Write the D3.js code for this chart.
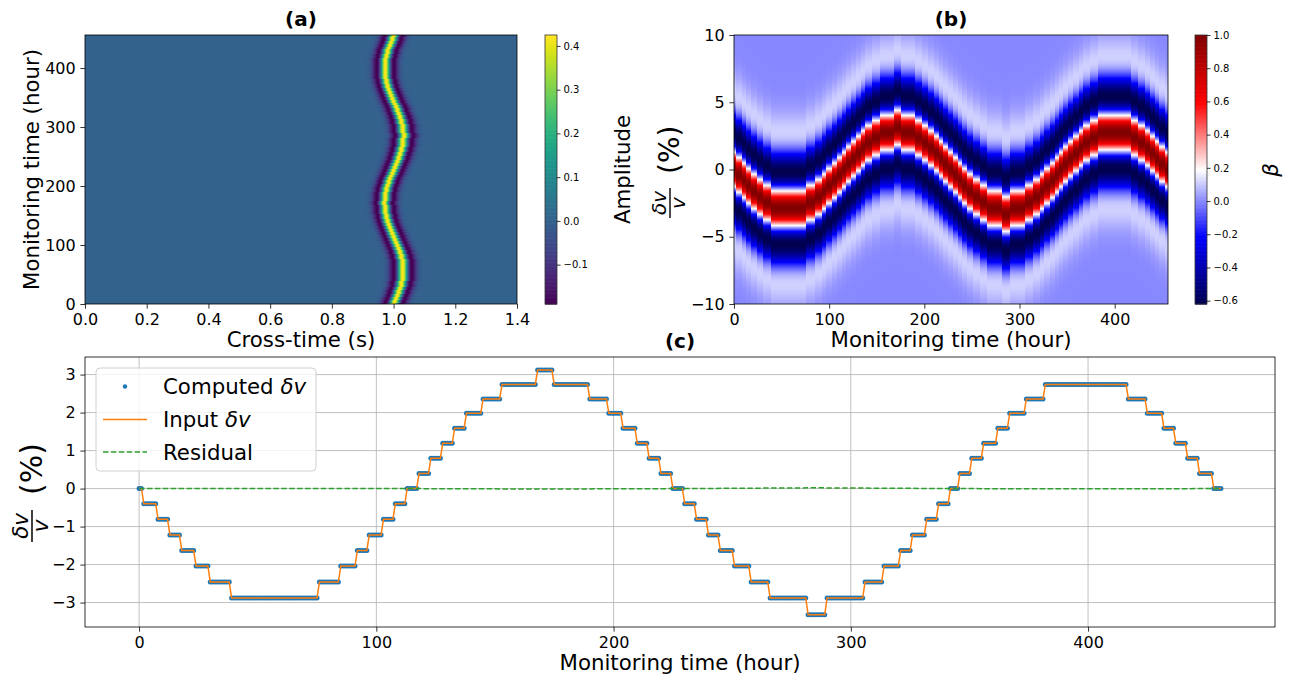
<!DOCTYPE html>
<html><head><meta charset="utf-8">
<script src="https://cdn.jsdelivr.net/npm/d3@7"></script>
<style>
body{margin:0;background:#fff}
svg{display:block}
text{font-family:"DejaVu Sans",sans-serif;fill:#000}
</style>
</head><body>
<svg id="fig" width="1290" height="677"></svg>
<script>
// ---------------- DATA ----------------
// Input / computed dv/v (%) is piecewise constant: level i holds from stepStartHours[i]
const stepStartHours = [0,2,8,13,18,24,30,39,76,85,92,97,103,108,113,118,123,128,133,138,145,153,168,175,190,198,204,210,215,220,225,230,235,240,245,251,258,266,282,290,306,314,321,326,332,337,342,346,351,356,362,367,374,382,417,425,432,437,442,447,453];
const stepLevels     = [0,-0.40,-0.81,-1.22,-1.63,-2.04,-2.46,-2.88,-2.46,-2.04,-1.63,-1.22,-0.81,-0.40,0,0.40,0.80,1.19,1.59,1.98,2.36,2.74,3.12,2.74,2.36,1.98,1.59,1.19,0.80,0.40,0,-0.40,-0.81,-1.22,-1.63,-2.04,-2.46,-2.88,-3.32,-2.88,-2.46,-2.04,-1.63,-1.22,-0.81,-0.40,0,0.40,0.80,1.19,1.59,1.98,2.36,2.74,2.36,1.98,1.59,1.19,0.80,0.40,0];
const lastHour = 456;
const residualHours  = [0,60,114,170,228,285,342,400,456];
const residualValues = [0,0.003,0,-0.012,0,0.02,0,-0.006,0];

// synthetic trace parameters (panel a) and beta parameters (panel b)
const waveletFreq = 13.6;     // Hz
const waveletArrival = 1.0;   // s
const waveletPeak = 0.425;
const ampRange = [-0.19, 0.425];
const betaRange = [-0.62, 1.0];
const betaScale = 0.50;       // correlation lag units per % of dv mismatch
const trialDvRange = [-10, 10];

// ticks
const crossTimeTicks = [0,0.2,0.4,0.6,0.8,1.0,1.2,1.4];
const hourTicks = [0,100,200,300,400];
const dvTicksB = [-10,-5,0,5,10];
const dvTicksC = [-3,-2,-1,0,1,2,3];
const ampTicks = [-0.1,0,0.1,0.2,0.3,0.4];
const betaTicks = [-0.6,-0.4,-0.2,0,0.2,0.4,0.6,0.8,1.0];

// ---------------- helpers ----------------
const hours = d3.range(0, lastHour + 1);
const inputDv = hours.map(h => stepLevels[d3.bisectRight(stepStartHours, h) - 1]);
const computedDv = inputDv.slice();

const svg = d3.select("#fig");
const TICK = 4.67, PAD = 4.67, TF = 16, LF = 21.3;

function styleAxis(g, fs) {
  g.attr("font-family", '"DejaVu Sans",sans-serif').attr("font-size", fs);
  g.select(".domain").remove();
  g.selectAll(".tick line").attr("stroke", "#000").attr("stroke-width", 0.8);
  g.selectAll(".tick text").attr("fill", "#000");
}
function ricker(u) {
  const a = Math.PI * Math.PI * waveletFreq * waveletFreq * u * u;
  return (1 - 2 * a) * Math.exp(-a);
}
function rickerAutocorr(dvDiff) {
  const x = betaScale * dvDiff;
  const u = x * x;
  return (u * u - 6 * u + 3) / 3 * Math.exp(-u / 2);
}
const seismic = d3.scaleLinear()
  .domain([0, 0.25, 0.5, 0.75, 1])
  .range(["rgb(0,0,77)", "rgb(0,0,255)", "rgb(255,255,255)", "rgb(255,0,0)", "rgb(128,0,0)"])
  .clamp(true);

function heatmap(g, x, y, valueAt, color) {
  const [x0, x1] = x.range(), [y1, y0] = y.range();
  const w = Math.round(x1 - x0), h = Math.round(y1 - y0);
  const cv = document.createElement("canvas");
  cv.width = w; cv.height = h;
  const ctx = cv.getContext("2d");
  const img = ctx.createImageData(w, h);
  for (let py = 0; py < h; py++) {
    const yv = y.invert(y0 + py + 0.5);
    for (let px = 0; px < w; px++) {
      const xv = x.invert(x0 + px + 0.5);
      const c = d3.rgb(color(valueAt(xv, yv)));
      const k = (py * w + px) * 4;
      img.data[k] = c.r; img.data[k+1] = c.g; img.data[k+2] = c.b; img.data[k+3] = 255;
    }
  }
  ctx.putImageData(img, 0, 0);
  g.append("image").attr("x", x0).attr("y", y0).attr("width", w).attr("height", h)
    .attr("preserveAspectRatio", "none").attr("href", cv.toDataURL());
}

function colorbar(x0, y0, w, h, domain, color, ticks, fmt) {
  const g = svg.append("g");
  const n = 200;
  const s = d3.scaleLinear().domain(domain).range([y0 + h, y0]);
  for (let i = 0; i < n; i++) {
    const v0 = domain[0] + (domain[1] - domain[0]) * i / n;
    const v1 = domain[0] + (domain[1] - domain[0]) * (i + 1) / n;
    g.append("rect").attr("x", x0).attr("width", w)
      .attr("y", s(v1)).attr("height", s(v0) - s(v1) + 0.6)
      .attr("fill", color((v0 + v1) / 2));
  }
  g.append("rect").attr("x", x0).attr("y", y0).attr("width", w).attr("height", h)
    .attr("fill", "none").attr("stroke", "#333").attr("stroke-width", 0.8);
  const ax = svg.append("g").attr("transform", `translate(${x0 + w},0)`)
    .call(d3.axisRight(s).tickValues(ticks).tickFormat(d3.format(fmt)).tickSize(3.5).tickPadding(3));
  styleAxis(ax, 10);
}

function fracLabel(cx, yStart, k) {
  const g = svg.append("g").attr("transform", `translate(${cx},${yStart}) rotate(-90) scale(${k})`);
  const w = 30;
  g.append("text").attr("x", w / 2).attr("y", -4).attr("text-anchor", "middle")
    .attr("font-size", 20).attr("font-style", "italic").text("δv");
  g.append("line").attr("x1", 0).attr("x2", w).attr("y1", 0).attr("y2", 0)
    .attr("stroke", "#000").attr("stroke-width", 1.4);
  g.append("text").attr("x", w / 2).attr("y", 15).attr("text-anchor", "middle")
    .attr("font-size", 20).attr("font-style", "italic").text("v");
  g.append("text").attr("x", w + 14).attr("y", 9).attr("font-size", 28).text("(%)");
}

// ---------------- PANEL (a) ----------------
{
  const x = d3.scaleLinear().domain([0, 1.4]).range([85, 517]);
  const y = d3.scaleLinear().domain([0, lastHour]).range([304, 35]);
  const g = svg.append("g");
  const ampNorm = d3.scaleLinear().domain(ampRange).range([0, 1]).clamp(true);
  heatmap(g, x, y, (t, hr) => {
    const hIdx = Math.max(0, Math.min(lastHour, Math.round(hr)));
    const dv = inputDv[hIdx];
    return waveletPeak * ricker(t * (1 + dv / 100) - waveletArrival);
  }, v => d3.interpolateViridis(ampNorm(v)));
  g.append("rect").attr("x", 85).attr("y", 35).attr("width", 432).attr("height", 269)
    .attr("fill", "none").attr("stroke", "#000").attr("stroke-width", 0.8);
  const xa = svg.append("g").attr("transform", "translate(0,304)")
    .call(d3.axisBottom(x).tickValues(crossTimeTicks).tickFormat(d3.format(".1f")).tickSize(TICK).tickPadding(PAD));
  styleAxis(xa, TF);
  const ya = svg.append("g").attr("transform", "translate(85,0)")
    .call(d3.axisLeft(y).tickValues(hourTicks).tickFormat(d3.format("d")).tickSize(TICK).tickPadding(PAD));
  styleAxis(ya, TF);
  svg.append("text").attr("x", 301).attr("y", 26).attr("text-anchor", "middle")
    .attr("font-size", 20).attr("font-weight", "bold").text("(a)");
  svg.append("text").attr("x", 301).attr("y", 347).attr("text-anchor", "middle")
    .attr("font-size", LF).text("Cross-time (s)");
  svg.append("text").attr("transform", "translate(39,169.5) rotate(-90)").attr("text-anchor", "middle")
    .attr("font-size", LF).text("Monitoring time (hour)");
  colorbar(545, 35, 12, 269, ampRange, v => d3.interpolateViridis((v - ampRange[0]) / (ampRange[1] - ampRange[0])), ampTicks, ".1f");
  svg.append("text").attr("transform", "translate(630,169.5) rotate(-90)").attr("text-anchor", "middle")
    .attr("font-size", LF).text("Amplitude");
}

// ---------------- PANEL (b) ----------------
{
  const x = d3.scaleLinear().domain([0, lastHour]).range([734, 1168]);
  const y = d3.scaleLinear().domain(trialDvRange).range([304, 35]);
  const g = svg.append("g");
  const bNorm = d3.scaleLinear().domain(betaRange).range([0, 1]);
  heatmap(g, x, y, (hr, eps) => {
    const hIdx = Math.max(0, Math.min(lastHour, Math.floor(hr)));
    return rickerAutocorr(eps - inputDv[hIdx]);
  }, v => seismic(bNorm(v)));
  g.append("rect").attr("x", 734).attr("y", 35).attr("width", 434).attr("height", 269)
    .attr("fill", "none").attr("stroke", "#000").attr("stroke-width", 0.8);
  const xa = svg.append("g").attr("transform", "translate(0,304)")
    .call(d3.axisBottom(x).tickValues(hourTicks).tickFormat(d3.format("d")).tickSize(TICK).tickPadding(PAD));
  styleAxis(xa, TF);
  const ya = svg.append("g").attr("transform", "translate(734,0)")
    .call(d3.axisLeft(y).tickValues(dvTicksB).tickFormat(d3.format("d")).tickSize(TICK).tickPadding(PAD));
  styleAxis(ya, TF);
  svg.append("text").attr("x", 951).attr("y", 26).attr("text-anchor", "middle")
    .attr("font-size", 20).attr("font-weight", "bold").text("(b)");
  svg.append("text").attr("x", 951).attr("y", 347).attr("text-anchor", "middle")
    .attr("font-size", LF).text("Monitoring time (hour)");
  fracLabel(670, 218, 1);
  colorbar(1195, 35, 12, 269, betaRange, v => seismic((v - betaRange[0]) / (betaRange[1] - betaRange[0])), betaTicks, ".1f");
  svg.append("text").attr("transform", "translate(1278,170) rotate(-90)").attr("text-anchor", "middle")
    .attr("font-size", LF).attr("font-style", "italic").text("β");
}

// ---------------- PANEL (c) ----------------
{
  const X0 = 85, X1 = 1275, Y0 = 357, Y1 = 627;
  const x = d3.scaleLinear().domain([-22.8, 478.8]).range([X0, X1]);
  const y = d3.scaleLinear().domain([-3.643, 3.463]).range([Y1, Y0]);
  const g = svg.append("g");
  // grid
  g.selectAll("line.gx").data(hourTicks).join("line")
    .attr("x1", d => x(d)).attr("x2", d => x(d)).attr("y1", Y0).attr("y2", Y1)
    .attr("stroke", "#b0b0b0").attr("stroke-width", 0.8);
  g.selectAll("line.gy").data(dvTicksC).join("line")
    .attr("x1", X0).attr("x2", X1).attr("y1", d => y(d)).attr("y2", d => y(d))
    .attr("stroke", "#b0b0b0").attr("stroke-width", 0.8);
  // computed dots
  g.selectAll("circle.c").data(hours).join("circle")
    .attr("cx", h => x(h)).attr("cy", h => y(computedDv[h])).attr("r", 2.5)
    .attr("fill", "#1f77b4");
  // input line
  g.append("path").datum(hours)
    .attr("d", d3.line().x(h => x(h)).y(h => y(inputDv[h])))
    .attr("fill", "none").attr("stroke", "#ff7f0e").attr("stroke-width", 1.5);
  // residual
  g.append("path").datum(d3.range(residualHours.length))
    .attr("d", d3.line().x(i => x(residualHours[i])).y(i => y(residualValues[i])))
    .attr("fill", "none").attr("stroke", "#2ca02c").attr("stroke-width", 1.5)
    .attr("stroke-dasharray", "5.5,2.4");
  g.append("rect").attr("x", X0).attr("y", Y0).attr("width", X1 - X0).attr("height", Y1 - Y0)
    .attr("fill", "none").attr("stroke", "#000").attr("stroke-width", 0.8);
  const xa = svg.append("g").attr("transform", `translate(0,${Y1})`)
    .call(d3.axisBottom(x).tickValues(hourTicks).tickFormat(d3.format("d")).tickSize(TICK).tickPadding(PAD));
  styleAxis(xa, TF);
  const ya = svg.append("g").attr("transform", `translate(${X0},0)`)
    .call(d3.axisLeft(y).tickValues(dvTicksC).tickFormat(d3.format("d")).tickSize(TICK).tickPadding(PAD));
  styleAxis(ya, TF);
  svg.append("text").attr("x", 680).attr("y", 348).attr("text-anchor", "middle")
    .attr("font-size", 20).attr("font-weight", "bold").text("(c)");
  svg.append("text").attr("x", 680).attr("y", 670).attr("text-anchor", "middle")
    .attr("font-size", LF).text("Monitoring time (hour)");
  fracLabel(32, 542, 1.07);
  // legend
  const lg = svg.append("g");
  lg.append("rect").attr("x", 96).attr("y", 368).attr("width", 220).attr("height", 103).attr("rx", 4)
    .attr("fill", "#fff").attr("fill-opacity", 0.8).attr("stroke", "#d0d0d0").attr("stroke-width", 1);
  lg.append("circle").attr("cx", 125).attr("cy", 386.5).attr("r", 2.2).attr("fill", "#1f77b4");
  lg.append("line").attr("x1", 103).attr("x2", 147).attr("y1", 419.5).attr("y2", 419.5)
    .attr("stroke", "#ff7f0e").attr("stroke-width", 1.5);
  lg.append("line").attr("x1", 103).attr("x2", 147).attr("y1", 452).attr("y2", 452)
    .attr("stroke", "#2ca02c").attr("stroke-width", 1.5).attr("stroke-dasharray", "5.5,2.4");
  const labels = [["Computed ", "δv", 394], ["Input ", "δv", 427], ["Residual", "", 460]];
  labels.forEach(([a, b, yy]) => {
    const t = lg.append("text").attr("x", 163).attr("y", yy).attr("font-size", LF);
    t.append("tspan").text(a);
    if (b) t.append("tspan").attr("font-style", "italic").text(b);
  });
}
</script>
</body></html>
